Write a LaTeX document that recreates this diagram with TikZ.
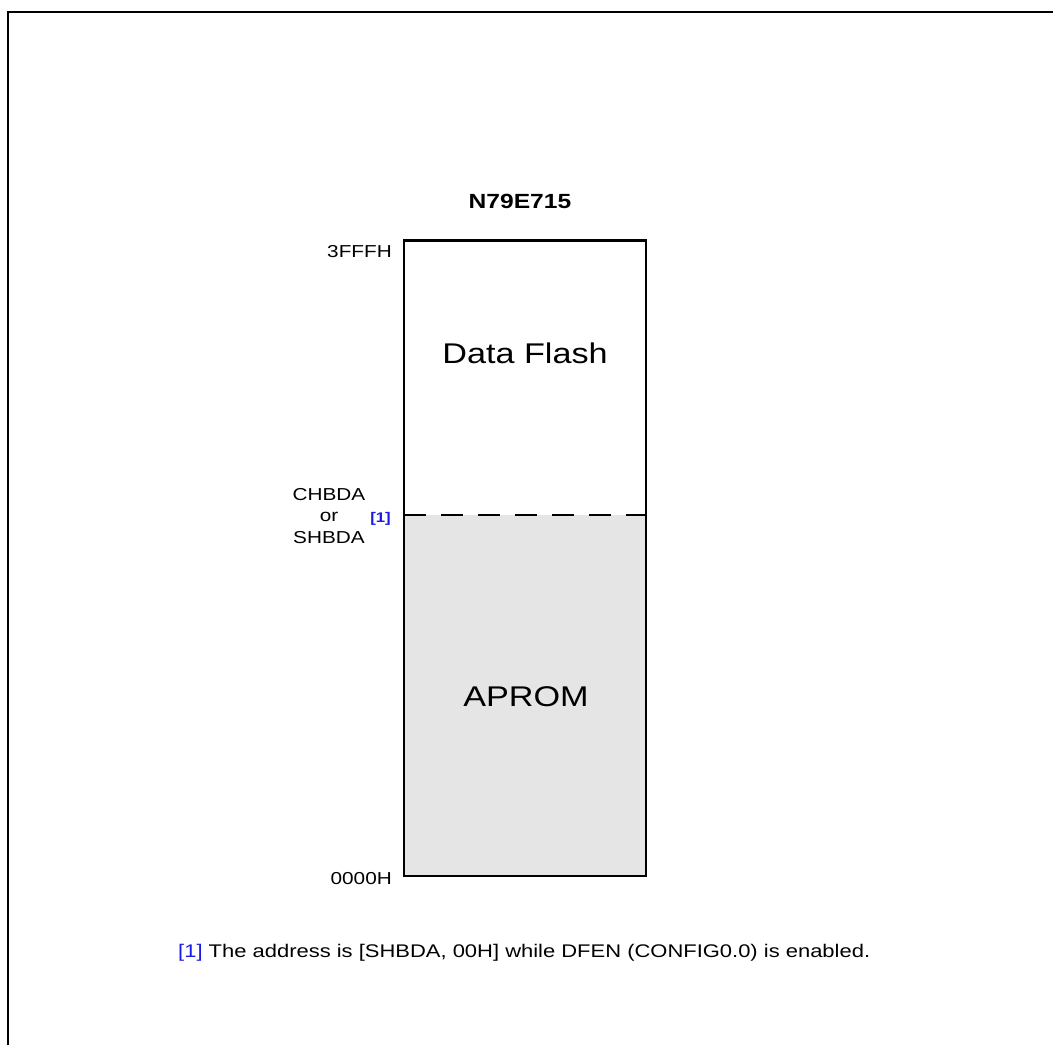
\documentclass[tikz,border=0pt]{standalone}
\usepackage{fontspec}
\setmainfont{Liberation Sans}[FakeStretch=1.2]
\definecolor{romgray}{HTML}{E5E5E5}
\definecolor{refblue}{HTML}{1A1AE6}
\begin{document}
\begin{tikzpicture}[x=1pt,y=-1pt,
  lbl/.style={font=\fontsize{17.3}{21.5}\selectfont, inner sep=0pt},
  big/.style={font=\fontsize{28.5}{32}\selectfont, inner sep=0pt},
  region/.style={rectangle, minimum width=242pt, inner sep=0pt, outer sep=0pt}]
\useasboundingbox (0,0) rectangle (1053,1045);
\draw[line width=2.9pt] (8,1045) -- (8,12) -- (1053,12);
\node[region, minimum height=274.5pt, anchor=north west] (flash) at (404,240.5) {};
\node[region, minimum height=361pt, anchor=north west, fill=romgray] (aprom) at (404,515) {};
\draw[line width=2.9pt] (flash.north west) rectangle (aprom.south east);
\draw[line width=2.7pt, dash pattern=on 22pt off 15pt] (flash.south west) -- (flash.south east);
\node[big, anchor=base] (dftext) at (525,363) {Data Flash};
\node[big, anchor=base] (apromtext) at (526,706) {APROM};
\node[font=\fontsize{20.5}{23}\selectfont\bfseries, inner sep=0pt, anchor=base] (title) at (520,208) {N79E715};
\node[lbl, anchor=base east] (top) at (392,257) {3FFFH};
\node[lbl, anchor=base east] (bottom) at (392,884) {0000H};
\node[lbl, align=center, anchor=base] (bound) at (329,543) {CHBDA\\or\\SHBDA};
\node[font=\fontsize{14}{16}\selectfont\bfseries, text=refblue, inner sep=0pt, anchor=base east] (ref) at (391,522) {[1]};
\node[font=\fontsize{18.3}{22}\selectfont, inner sep=0pt, anchor=base west] (note) at (178,957) {\textcolor{refblue}{[1]} The address is [SHBDA, 00H] while DFEN (CONFIG0.0) is enabled.};
\end{tikzpicture}
\end{document}
